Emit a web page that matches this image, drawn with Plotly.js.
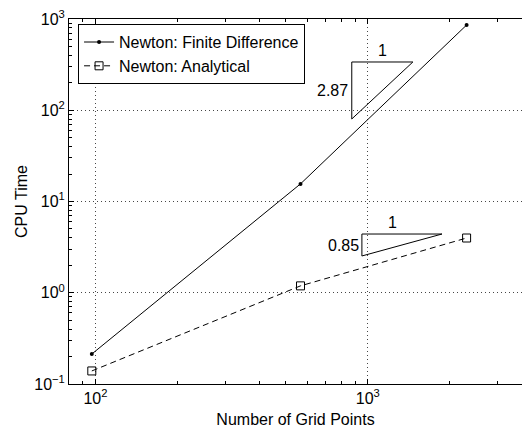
<!DOCTYPE html>
<html><head><meta charset="utf-8">
<script src="https://cdn.plot.ly/plotly-3.0.1.min.js"></script>
<style>html,body{margin:0;padding:0;overflow:hidden;background:#fff}#chart{width:522px;height:430px}</style>
</head><body><div id="chart"></div>
<script>
// ---- data ----
const gridPoints = [97, 566, 2304];
const cpuFiniteDifference = [0.213, 15.6, 859];
const cpuAnalytical = [0.139, 1.19, 3.98];
const seriesNames = ['Newton: Finite Difference', 'Newton: Analytical'];
const slopeLabels = ['2.87', '0.85'];
const runLabel = '1';
// slope triangles: x = [left, right], y = [low, high]
const triangleFDx = [873, 1463];
const triangleFDy = [80.2, 338];
const triangleANx = [951, 1871];
const triangleANy = [2.53, 4.40];
const xTickVals = [100, 1000];
const xTickText = ['10<sup>2</sup>', '10<sup>3</sup>'];
const yTickVals = [0.1, 1, 10, 100, 1000];
const yTickText = ['10<sup>\u22121</sup>', '10<sup>0</sup>', '10<sup>1</sup>', '10<sup>2</sup>', '10<sup>3</sup>'];
const xRange = [80, 3680];
const yRange = [0.1, 1000];

function minorTicks(lo, hi) {
  const out = [];
  for (let e = lo; e <= hi; e++) for (let m = 2; m <= 9; m++) out.push(m * Math.pow(10, e));
  return out;
}
// triangle legs as line shapes (shape coordinates on log axes are data values)
function triShapes(xs, ys) {
  const seg = (x0, y0, x1, y1) => ({type: 'line', xref: 'x', yref: 'y', x0: x0, y0: y0, x1: x1, y1: y1,
    line: {color: 'black', width: 1}});
  return [seg(xs[0], ys[0], xs[0], ys[1]), seg(xs[0], ys[1], xs[1], ys[1]), seg(xs[1], ys[1], xs[0], ys[0])];
}
const FONT = 'Liberation Sans, Arial, Helvetica, sans-serif';
const traces = [
  {x: gridPoints, y: cpuFiniteDifference, name: seriesNames[0], mode: 'lines+markers',
   line: {color: 'black', width: 1}, marker: {symbol: 'circle', size: 4, color: 'black'}},
  {x: gridPoints, y: cpuAnalytical, name: seriesNames[1], mode: 'lines+markers',
   line: {color: 'black', width: 1, dash: '6px,4px'},
   marker: {symbol: 'square-open', size: 8, color: 'black', line: {width: 1, color: 'black'}}}
];
const gm = a => Math.log10(Math.sqrt(a[0] * a[1]));
const annotations = [
  {x: gm(triangleFDx), y: Math.log10(triangleFDy[1]), text: runLabel, showarrow: false, yanchor: 'bottom', yshift: 1},
  {x: Math.log10(triangleFDx[0]), y: gm(triangleFDy), text: slopeLabels[0], showarrow: false, xanchor: 'right', xshift: -2},
  {x: gm(triangleANx), y: Math.log10(triangleANy[1]), text: runLabel, showarrow: false, yanchor: 'bottom', yshift: 1, xshift: -9},
  {x: Math.log10(triangleANx[0]), y: gm(triangleANy), text: slopeLabels[1], showarrow: false, xanchor: 'right', xshift: -1}
].map(a => Object.assign({xref: 'x', yref: 'y', font: {family: FONT, size: 16, color: 'black'}}, a));

const axisCommon = {
  type: 'log', showline: true, linewidth: 1, linecolor: 'black',
  ticks: 'inside', ticklen: 5, tickcolor: 'black', tickmode: 'array',
  showgrid: true, gridcolor: 'rgb(70,70,70)', gridwidth: 1, griddash: '1px,3px',
  zeroline: false, tickfont: {family: FONT, size: 16, color: 'black'}
};
const layout = {
  width: 522, height: 430,
  margin: {l: 69, r: 0, t: 19, b: 46},
  paper_bgcolor: 'white', plot_bgcolor: 'white',
  font: {family: FONT, size: 16, color: 'black'},
  showlegend: true,
  legend: {x: 0.02, y: 0.986, xanchor: 'left', yanchor: 'top', bgcolor: 'white',
    bordercolor: 'black', borderwidth: 1, font: {family: FONT, size: 16, color: 'black'}},
  xaxis: Object.assign({}, axisCommon, {
    mirror: 'ticks',
    range: xRange.map(Math.log10), tickvals: xTickVals, ticktext: xTickText,
    minor: {tickvals: minorTicks(1, 3), ticks: 'inside', ticklen: 3, tickcolor: 'black', showgrid: false},
    title: {text: 'Number of Grid Points', font: {family: FONT, size: 16, color: 'black'}, standoff: 7}
  }),
  yaxis: Object.assign({}, axisCommon, {
    mirror: false,
    range: yRange.map(Math.log10), tickvals: yTickVals, ticktext: yTickText,
    minor: {tickvals: minorTicks(-1, 2), ticks: 'inside', ticklen: 3, tickcolor: 'black', showgrid: false},
    title: {text: 'CPU Time', font: {family: FONT, size: 16, color: 'black'}, standoff: 2}
  }),
  shapes: triShapes(triangleFDx, triangleFDy).concat(triShapes(triangleANx, triangleANy)),
  annotations: annotations
};
Plotly.newPlot('chart', traces, layout, {staticPlot: true, displayModeBar: false});
</script></body></html>
